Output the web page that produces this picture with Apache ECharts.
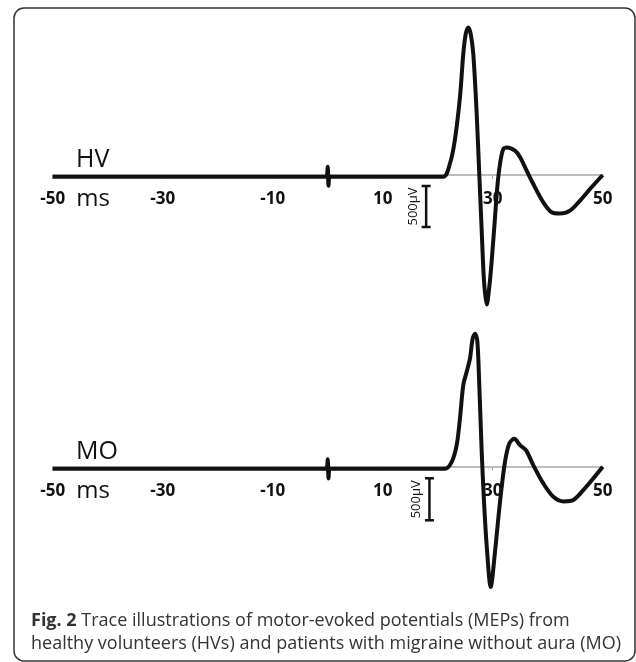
<!DOCTYPE html>
<html><head><meta charset="utf-8">
<script src="https://cdn.jsdelivr.net/npm/echarts@6/dist/echarts.min.js"></script>
<style>html,body{margin:0;padding:0;background:#fff}#c{width:636px;height:662px}</style>
</head><body><div id="c"></div>
<script>
// ---- data ----
const tickValues = [-50, -30, -10, 10, 30, 50];
const panelNames = ['HV', 'MO'];
const unitLabel = 'ms';
const scaleLabel = '500µV';
// [time ms, amplitude µV]
const hvTrace = [[-50,-20],[-0.3,-20],[0,100],[0.15,-130],[0.4,-20],[21.0,-20],[22.2,134],[23.1,418],[24.05,952],[24.65,1476],[25.1,1720],[25.56,1800],[26.0,1720],[26.47,1476],[27.09,744],[27.56,12],[28.0,-680],[28.42,-1290],[28.9,-1580],[29.5,-1290],[30.24,-680],[30.84,-146],[31.33,134],[31.93,317],[32.65,335],[34.05,296],[34.96,220],[36.18,52],[37.38,-110],[39.2,-333],[40.73,-455],[42.24,-470],[44.05,-435],[45.87,-313],[47.69,-171],[50,0]];
const moTrace = [[-50,-25],[-0.3,-25],[0,90],[0.15,-140],[0.4,-25],[21.3,-25],[22.55,58],[23.45,257],[24.05,575],[24.65,971],[25.27,1130],[25.87,1289],[26.36,1527],[26.78,1583],[27.2,1500],[27.56,971],[28.0,178],[28.42,-417],[28.9,-933],[29.64,-1433],[30.42,-1012],[31.33,-417],[32.24,60],[33.02,277],[33.93,333],[34.96,257],[36.05,198],[37.38,19],[39.2,-199],[41.02,-357],[42.96,-413],[44.65,-397],[46.47,-278],[48.29,-139],[50,0]];
// scale bars: [time, top µV, bottom µV]
const scaleBarHV = [[17.9, -134, -634]];
const scaleBarMO = [[18.5, -138, -638]];
const captionBold = 'Fig. 2';
const captionLine1 = 'Trace illustrations of motor-evoked potentials (MEPs) from';
const captionLine2 = 'healthy volunteers (HVs) and patients with migraine without aura (MO)';

// ---- chart ----
const chart = echarts.init(document.getElementById('c'), null, {renderer: 'canvas'});
const k1 = 0.082, k2 = 0.084, yMin = -1800, yMax = 2000;
const zero1 = 175, zero2 = 466.7;
function xAx(gi, k) {
  return {
    type: 'value', gridIndex: gi, min: -50, max: 50, position: 'bottom',
    offset: yMin * k,
    axisLine: {onZero: false, lineStyle: {color: '#a8a8a8', width: 1.5}},
    axisTick: {show: true, customValues: tickValues, length: 4, lineStyle: {color: '#a8a8a8', width: 1}},
    axisLabel: {customValues: tickValues, margin: 16, fontFamily: 'Open Sans', fontWeight: 'bold', fontSize: 17, color: '#111'},
    splitLine: {show: false}
  };
}
function yAx(gi) {
  return {type: 'value', gridIndex: gi, min: yMin, max: yMax, show: false, splitLine: {show: false}};
}
function scaleBarRender(params, api) {
  const t = api.coord([api.value(0), api.value(1)]);
  const b = api.coord([api.value(0), api.value(2)]);
  const st = {stroke: '#111', lineWidth: 2.5};
  return {type: 'group', children: [
    {type: 'line', shape: {x1: t[0], y1: t[1], x2: b[0], y2: b[1]}, style: st},
    {type: 'line', shape: {x1: t[0]-4.5, y1: t[1], x2: t[0]+4.5, y2: t[1]}, style: st},
    {type: 'line', shape: {x1: b[0]-4.5, y1: b[1], x2: b[0]+4.5, y2: b[1]}, style: st},
    {type: 'text', x: t[0]-13, y: (t[1]+b[1])/2, rotation: Math.PI/2,
     style: {text: scaleLabel, align: 'center', verticalAlign: 'middle', font: '13px "Open Sans"', fill: '#111'}}
  ]};
}
const traceStyle = {color: '#111', width: 4};
const option = {
  animation: false,
  grid: [
    {left: 52.7, right: 33.3, top: zero1 - yMax*k1, height: (yMax - yMin)*k1},
    {left: 52.7, right: 33.3, top: zero2 - yMax*k2, height: (yMax - yMin)*k2}
  ],
  xAxis: [xAx(0, k1), xAx(1, k2)],
  yAxis: [yAx(0), yAx(1)],
  series: [
    {type: 'line', name: panelNames[0], xAxisIndex: 0, yAxisIndex: 0, data: hvTrace, showSymbol: false, smooth: 0.3, lineStyle: traceStyle, clip: false, z: 5},
    {type: 'line', name: panelNames[1], xAxisIndex: 1, yAxisIndex: 1, data: moTrace, showSymbol: false, smooth: 0.3, lineStyle: traceStyle, clip: false, z: 5},
    {type: 'custom', xAxisIndex: 0, yAxisIndex: 0, data: scaleBarHV, encode: {x: 0, y: [1, 2]}, renderItem: scaleBarRender, clip: false},
    {type: 'custom', xAxisIndex: 1, yAxisIndex: 1, data: scaleBarMO, encode: {x: 0, y: [1, 2]}, renderItem: scaleBarRender, clip: false}
  ],
  graphic: [
    {type: 'rect', shape: {x: 14, y: 8, width: 621, height: 653, r: 10}, style: {fill: 'none', stroke: '#333', lineWidth: 1.5}, z: 0},
    {type: 'text', x: 76, y: 160, style: {text: panelNames[0], font: '25px "Open Sans"', fill: '#111', verticalAlign: 'middle'}},
    {type: 'text', x: 76, y: 452, style: {text: panelNames[1], font: '25px "Open Sans"', fill: '#111', verticalAlign: 'middle'}},
    {type: 'text', x: 93, y: 199, style: {text: unitLabel, font: '24px "Open Sans"', fill: '#111', align: 'center', verticalAlign: 'middle'}},
    {type: 'text', x: 93, y: 491, style: {text: unitLabel, font: '24px "Open Sans"', fill: '#111', align: 'center', verticalAlign: 'middle'}},
    {type: 'text', x: 31, y: 621, style: {text: '{b|' + captionBold + '} ' + captionLine1, font: '18px "Open Sans"', fill: '#333', verticalAlign: 'middle',
      rich: {b: {fontWeight: 'bold', fontSize: 18, fontFamily: 'Open Sans', fill: '#333'}}}},
    {type: 'text', x: 31, y: 644, style: {text: captionLine2, font: '18px "Open Sans"', fill: '#333', verticalAlign: 'middle'}}
  ]
};
chart.setOption(option);
</script>
</body></html>
